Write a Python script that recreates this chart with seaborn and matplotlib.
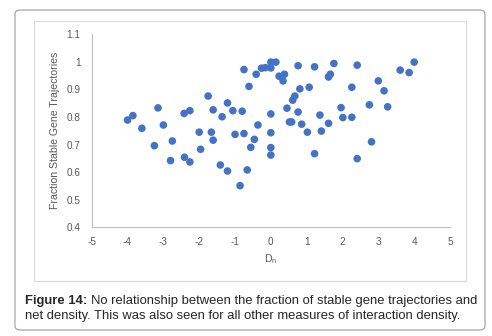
import numpy as np
import pandas as pd
import seaborn as sns
from matplotlib import pyplot as plt
from matplotlib.patches import FancyBboxPatch, Rectangle

# Values
dn = [-4.0, -3.85, -3.6, -3.25, -3.15, -3.0, -2.8, -2.75, -2.41, -2.42,
      -2.26, -2.26, -2.0, -1.96, -1.75, -1.66, -1.61, -1.61, -1.41, -1.36,
      -1.21, -1.21, -1.06, -1.0, -0.86, -0.8, -0.75, -0.75, -0.66, -0.61,
      -0.56, -0.46, -0.41, -0.36, -0.26, -0.15, 0.0, 0.0, 0.14, 0.0,
      0.0, 0.0, 0.0, 0.23, 0.34, 0.38, 0.45, 0.52, 0.58, 0.61,
      0.67, 0.76, 0.76, 0.81, 0.86, 1.02, 1.07, 1.22, 1.22, 1.37,
      1.41, 1.61, 1.66, 1.61, 1.76, 1.96, 2.01, 2.26, 2.26, 2.41,
      2.41, 2.75, 2.81, 3.0, 3.16, 3.26, 3.61, 3.86, 4.0]
frac_stable = [0.789, 0.805, 0.759, 0.696, 0.833, 0.771, 0.642, 0.713, 0.654, 0.813,
               0.823, 0.637, 0.745, 0.683, 0.876, 0.745, 0.826, 0.716, 0.626, 0.801,
               0.851, 0.604, 0.823, 0.737, 0.551, 0.821, 0.972, 0.740, 0.608, 0.911,
               0.690, 0.719, 0.955, 0.771, 0.977, 0.979, 0.999, 0.978, 0.999, 0.811,
               0.743, 0.689, 0.662, 0.948, 0.931, 0.955, 0.832, 0.782, 0.782, 0.861,
               0.876, 0.986, 0.818, 0.902, 0.774, 0.745, 0.908, 0.982, 0.667, 0.807,
               0.749, 0.945, 0.955, 0.777, 0.994, 0.834, 0.798, 0.908, 0.799, 0.988,
               0.649, 0.844, 0.710, 0.931, 0.895, 0.837, 0.970, 0.961, 0.999]

x_ticks = [-5, -4, -3, -2, -1, 0, 1, 2, 3, 4, 5]
y_ticks = [0.4, 0.5, 0.6, 0.7, 0.8, 0.9, 1.0, 1.1]
y_labels = ["0.4", "0.5", "0.6", "0.7", "0.8", "0.9", "1", "1.1"]

df = pd.DataFrame({"Dn": dn, "frac": frac_stable})

sns.set_style("white")
plt.rcParams["font.family"] = ["Liberation Sans", "DejaVu Sans"]

fig = plt.figure(figsize=(4.92, 3.36), dpi=100)
ax = fig.add_axes([0.1864, 0.3235, 0.7282, 0.5745])

sns.scatterplot(data=df, x="Dn", y="frac", ax=ax, color="#4472C4",
                s=30, edgecolor="none", zorder=3)

ax.set_xlim(-5, 5)
ax.set_ylim(0.4, 1.1)
ax.set_xticks(x_ticks)
ax.set_xticklabels([str(t) for t in x_ticks])
ax.set_yticks(y_ticks)
ax.set_yticklabels(y_labels)
ax.tick_params(length=0, labelsize=7.2, colors="#595959")
ax.tick_params(axis="x", pad=7)
ax.tick_params(axis="y", pad=8)
for side in ["top", "right"]:
    ax.spines[side].set_visible(False)
for side in ["left", "bottom"]:
    ax.spines[side].set_color("#bfbfbf")
    ax.spines[side].set_linewidth(0.8)

ax.set_xlabel("D$_\\mathregular{n}$", fontsize=7.6, color="#595959", labelpad=4)
ax.set_ylabel("Fraction Stable Gene Trajectories", fontsize=7.6, color="#595959", labelpad=5)

# Chart area frame and outer rounded box
fig.patches.append(Rectangle((34 / 492, 1 - 281 / 336), 432 / 492, 260 / 336,
                             transform=fig.transFigure, fill=False,
                             edgecolor="#d9d9d9", linewidth=0.8))
fig.patches.append(FancyBboxPatch((15 / 492, 1 - 330 / 336), 470 / 492, 320 / 336,
                                  boxstyle="round,pad=0,rounding_size=0.012",
                                  transform=fig.transFigure, fill=False,
                                  edgecolor="#a6a6a6", linewidth=0.9))

fig.text(25 / 492, 1 - 301 / 336, "Figure 14:", fontsize=9.35, fontweight="bold",
         va="center", ha="left")
fig.text(91 / 492, 1 - 301 / 336,
         "No relationship between the fraction of stable gene trajectories and",
         fontsize=9.35, va="center", ha="left")
fig.text(25 / 492, 1 - 316 / 336,
         "net density. This was also seen for all other measures of interaction density.",
         fontsize=9.35, va="center", ha="left")

fig.savefig("out.png", dpi=100)
